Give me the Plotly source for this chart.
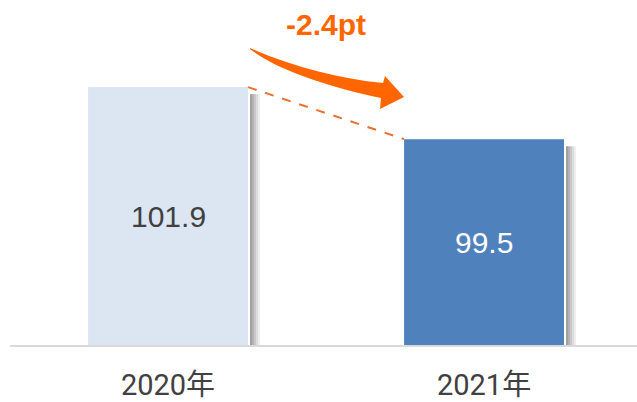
import plotly.graph_objects as go

# ---- data ----
categories = ["2020年", "2021年"]
values = [101.9, 99.5]
bar_colors = ["#DCE6F2", "#4F81BD"]
label_colors = ["#404040", "#FFFFFF"]
change_label = "-2.4pt"

# ---- layout constants ----
W, H = 637, 402
ML, MR, MT, MB = 10, 0, 0, 57
y_min = 90.0
y_max = 105.92
x_range = [-0.5, 1.484]
bar_w = 0.506

fig = go.Figure()
fig.add_trace(go.Bar(
    x=list(range(len(categories))), y=values, width=bar_w,
    marker=dict(color=bar_colors, line=dict(width=0)),
    hoverinfo="skip", showlegend=False,
))

# value labels in the middle of each visible bar
for i, v in enumerate(values):
    fig.add_annotation(
        x=i, y=(y_min + v) / 2, xref="x", yref="y", text=f"{v:.1f}",
        showarrow=False, font=dict(family="Liberation Sans, Arial", size=30, color=label_colors[i]),
    )

# soft shadows on the right of each bar
px_per_x = (W - ML - MR) / (x_range[1] - x_range[0])
px_per_y = (H - MT - MB) / (y_max - y_min)
shadow_cols = ["#a0a0a0", "#b3b3b3", "#c8c8c8", "#dcdcdc", "#eeeeee"]
for i, v in enumerate(values):
    for k, c in enumerate(shadow_cols):
        x0 = i + bar_w / 2 + (2 + 2 * k) / px_per_x
        fig.add_shape(type="rect", xref="x", yref="y",
                      x0=x0, x1=x0 + 2 / px_per_x,
                      y0=y_min, y1=v - 7 / px_per_y,
                      line=dict(width=0), fillcolor=c, layer="below")

# dashed connector from bar top to bar top
fig.add_trace(go.Scatter(
    x=[0 + bar_w / 2, 1 - bar_w / 2], y=[values[0], values[1]],
    mode="lines", line=dict(color="#E97132", width=2, dash="dash"),
    hoverinfo="skip", showlegend=False,
))

# curved arrow (pixel design converted to paper coordinates)
pw, ph = W - ML - MR, H - MT - MB
def P(px, py):
    return f"{(px - ML) / pw:.4f},{(H - MB - py) / ph:.4f}"

arrow_path = (
    f"M {P(250, 48)} "
    f"C {P(290, 66)} {P(340, 79)} {P(383, 83)} "
    f"L {P(385, 76)} L {P(404, 97)} L {P(380, 109)} L {P(381, 98)} "
    f"C {P(335, 88)} {P(280, 72)} {P(250, 49)} Z"
)
fig.add_shape(type="path", xref="paper", yref="paper", path=arrow_path,
              fillcolor="#FF6600", line=dict(width=0))

fig.add_annotation(
    x=(326 - ML) / pw, y=(H - MB - 25) / ph, xref="paper", yref="paper",
    text=f"<b>{change_label}</b>", showarrow=False,
    font=dict(family="Liberation Sans, Arial", size=30, color="#FF6600"),
    xanchor="center", yanchor="middle",
)

fig.update_layout(
    width=W, height=H,
    margin=dict(l=ML, r=MR, t=MT, b=MB, autoexpand=False),
    paper_bgcolor="white", plot_bgcolor="white",
    xaxis=dict(
        range=x_range, tickmode="array", tickvals=list(range(len(categories))),
        ticktext=categories, showgrid=False, zeroline=False,
        showline=True, linecolor="#D9D9D9", linewidth=2,
        ticks="", ticklabelstandoff=13, automargin=False,
        tickfont=dict(family="Roboto, Noto Sans CJK JP", size=29, color="#404040"),
        fixedrange=True,
    ),
    yaxis=dict(range=[y_min, y_max], visible=False, fixedrange=True, automargin=False),
)

fig.write_html("out.html", config={"displayModeBar": False, "staticPlot": True},
               post_script="document.body.style.margin='0';document.body.style.overflow='hidden';")
